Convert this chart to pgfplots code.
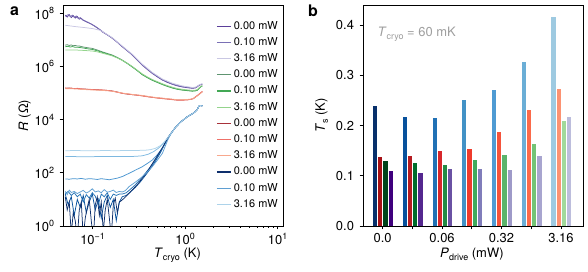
\documentclass[border=0pt]{standalone}
\usepackage{fontspec}
\setmainfont{TeX Gyre Heros}
\usepackage{pgfplots}
\usepackage{pgfplotstable}
\pgfplotsset{compat=1.18}

\newcommand\sups[1]{\raisebox{0.42em}{\fontsize{9}{9}\selectfont #1}}
\newcommand\subs[1]{\raisebox{-0.22em}{\fontsize{9}{9}\selectfont #1}}

% line colours (panel a)
\definecolor{LP0}{HTML}{5B3F9A}\definecolor{LP1}{HTML}{7A70B5}\definecolor{LP6}{HTML}{C9C7E3}
\definecolor{LG0}{HTML}{5E9470}\definecolor{LG1}{HTML}{43A855}\definecolor{LG6}{HTML}{94D48C}
\definecolor{LR0}{HTML}{A8323A}\definecolor{LR1}{HTML}{EF7068}\definecolor{LR6}{HTML}{F8A88D}
\definecolor{LB0}{HTML}{0E2F6C}\definecolor{LB1}{HTML}{08519C}\definecolor{LB2}{HTML}{2171B5}
\definecolor{LB3}{HTML}{5F9FD2}\definecolor{LB4}{HTML}{4A95D0}\definecolor{LB5}{HTML}{7DB8E0}\definecolor{LB6}{HTML}{ADD3EA}
% bar colours (panel b)
\definecolor{B0}{HTML}{08306B}\definecolor{B1}{HTML}{08519C}\definecolor{B2}{HTML}{2171B5}\definecolor{B3}{HTML}{4292C6}
\definecolor{B4}{HTML}{4F9BD3}\definecolor{B5}{HTML}{6BAED6}\definecolor{B6}{HTML}{9ECAE1}
\definecolor{R0}{HTML}{A50F15}\definecolor{R1}{HTML}{B51B21}\definecolor{R2}{HTML}{D7262B}\definecolor{R3}{HTML}{EF3B2C}
\definecolor{R4}{HTML}{F5533B}\definecolor{R5}{HTML}{FB6A4A}\definecolor{R6}{HTML}{FC9272}
\definecolor{G0}{HTML}{00441B}\definecolor{G1}{HTML}{006D2C}\definecolor{G2}{HTML}{238B45}\definecolor{G3}{HTML}{41AB5D}
\definecolor{G4}{HTML}{5BB46B}\definecolor{G5}{HTML}{74C476}\definecolor{G6}{HTML}{A1D99B}
\definecolor{P0}{HTML}{3F007D}\definecolor{P1}{HTML}{54278F}\definecolor{P2}{HTML}{6A51A3}\definecolor{P3}{HTML}{807DBA}
\definecolor{P4}{HTML}{9E9AC8}\definecolor{P5}{HTML}{A8A5CF}\definecolor{P6}{HTML}{BCBDDC}

% ---- panel a data: log10(T/K)  log10(R/Ohm)
\pgfplotstableread{
lt lr
-1.295 7.93
-1.274 7.86
-1.252 7.95
-1.230 7.84
-1.209 7.91
-1.187 7.82
-1.165 7.88
-1.144 7.78
-1.122 7.81
-1.101 7.74
-1.079 7.70
-1.057 7.66
-1.036 7.63
-1.014 7.60
-0.992 7.55
-0.971 7.50
-0.949 7.45
-0.917 7.37
-0.895 7.30
-0.841 7.19
-0.787 7.06
-0.733 6.91
-0.679 6.74
-0.625 6.59
-0.571 6.43
-0.517 6.24
-0.463 6.05
-0.409 5.89
-0.355 5.74
-0.301 5.61
-0.246 5.49
-0.192 5.40
-0.138 5.33
-0.084 5.27
-0.030 5.23
0.024 5.20
0.078 5.18
0.110 5.19
0.132 5.24
0.157 5.30
0.186 5.33
}\Pzero
\pgfplotstableread{
lt lr
-1.295 7.89
-1.264 7.95
-1.241 7.87
-1.219 7.93
-1.198 7.85
-1.176 7.90
-1.155 7.80
-1.133 7.84
-1.111 7.76
-1.090 7.73
-1.068 7.69
-1.046 7.66
-1.025 7.61
-1.003 7.57
-0.971 7.51
-0.938 7.43
-0.906 7.35
-0.863 7.24
-0.787 7.07
-0.679 6.75
-0.571 6.44
-0.463 6.06
-0.355 5.75
-0.246 5.50
-0.138 5.34
-0.030 5.24
0.078 5.19
0.110 5.20
0.132 5.25
0.157 5.31
0.186 5.34
}\Pone
\pgfplotstableread{
lt lr
-1.295 7.55
-1.187 7.50
-1.079 7.46
-0.992 7.42
-0.917 7.36
-0.863 7.25
-0.787 7.08
-0.679 6.77
-0.571 6.46
-0.463 6.09
-0.355 5.78
-0.246 5.53
-0.138 5.37
-0.030 5.27
0.078 5.21
0.110 5.22
0.132 5.26
0.157 5.32
0.186 5.35
}\Psix
\pgfplotstableread{
lt lr
-1.295 6.80
-1.274 6.82
-1.252 6.79
-1.230 6.81
-1.209 6.78
-1.187 6.79
-1.165 6.77
-1.144 6.77
-1.111 6.74
-1.079 6.72
-1.046 6.70
-1.003 6.68
-0.949 6.62
-0.895 6.55
-0.841 6.49
-0.787 6.43
-0.733 6.34
-0.679 6.24
-0.625 6.12
-0.571 5.99
-0.517 5.85
-0.463 5.70
-0.409 5.59
-0.355 5.49
-0.301 5.41
-0.246 5.33
-0.192 5.26
-0.138 5.20
-0.084 5.15
-0.030 5.12
0.024 5.10
0.078 5.08
0.110 5.09
0.132 5.11
0.168 5.24
0.186 5.27
}\Gzero
\pgfplotstableread{
lt lr
-1.295 6.74
-1.264 6.76
-1.241 6.73
-1.219 6.75
-1.187 6.72
-1.155 6.72
-1.111 6.70
-1.079 6.68
-1.046 6.66
-1.003 6.64
-0.949 6.59
-0.895 6.53
-0.841 6.47
-0.787 6.41
-0.733 6.33
-0.679 6.23
-0.625 6.11
-0.571 5.98
-0.517 5.84
-0.463 5.69
-0.409 5.58
-0.355 5.48
-0.301 5.40
-0.246 5.32
-0.192 5.25
-0.138 5.19
-0.084 5.14
-0.030 5.11
0.024 5.09
0.078 5.07
0.110 5.08
0.132 5.10
0.168 5.23
0.186 5.26
}\Gone
\pgfplotstableread{
lt lr
-1.295 6.62
-1.187 6.62
-1.079 6.60
-1.003 6.58
-0.949 6.55
-0.895 6.50
-0.841 6.45
-0.787 6.40
-0.733 6.32
-0.679 6.23
-0.625 6.12
-0.571 6.00
-0.517 5.86
-0.463 5.72
-0.409 5.61
-0.355 5.51
-0.301 5.43
-0.246 5.35
-0.192 5.28
-0.138 5.22
-0.084 5.17
-0.030 5.14
0.024 5.12
0.078 5.10
0.110 5.11
0.132 5.13
0.168 5.25
0.186 5.28
}\Gsix
\pgfplotstableread{
lt lr
-1.295 5.18
-1.252 5.19
-1.209 5.17
-1.165 5.17
-1.122 5.15
-1.079 5.15
-1.025 5.13
-0.971 5.13
-0.895 5.11
-0.841 5.10
-0.787 5.08
-0.733 5.04
-0.679 4.99
-0.625 4.96
-0.571 4.94
-0.517 4.92
-0.463 4.90
-0.409 4.87
-0.355 4.84
-0.301 4.82
-0.246 4.80
-0.192 4.78
-0.138 4.76
-0.084 4.74
-0.030 4.74
0.024 4.75
0.059 4.76
0.090 4.79
0.132 4.90
0.160 4.98
0.186 5.05
}\Rzero
\pgfplotstableread{
lt lr
-1.295 5.20
-1.264 5.17
-1.230 5.19
-1.198 5.16
-1.165 5.18
-1.122 5.16
-1.079 5.14
-1.025 5.14
-0.971 5.12
-0.895 5.12
-0.841 5.10
-0.787 5.07
-0.733 5.03
-0.679 4.99
-0.625 4.97
-0.571 4.94
-0.517 4.92
-0.463 4.89
-0.409 4.86
-0.355 4.84
-0.301 4.81
-0.246 4.79
-0.192 4.77
-0.138 4.75
-0.084 4.73
-0.030 4.73
0.024 4.74
0.059 4.76
0.090 4.80
0.132 4.91
0.160 4.99
0.186 5.06
}\Rone
\pgfplotstableread{
lt lr
-1.295 5.16
-1.209 5.16
-1.122 5.14
-1.025 5.12
-0.895 5.10
-0.787 5.07
-0.679 5.00
-0.571 4.95
-0.463 4.91
-0.355 4.85
-0.246 4.81
-0.138 4.77
-0.084 4.75
-0.030 4.75
0.024 4.76
0.059 4.77
0.090 4.80
0.132 4.89
0.160 4.97
0.186 5.04
}\Rsix
\pgfplotstableread{
lt lr
-1.295 1.10
-1.274 0.60
-1.252 0.90
-1.230 -0.30
-1.209 0.50
-1.187 0.20
-1.165 -0.50
-1.144 0.60
-1.122 0.90
-1.101 -0.40
-1.079 0.30
-1.057 0.70
-1.036 1.00
-1.014 0.20
-0.992 -0.50
-0.971 0.80
-0.949 1.10
-0.927 0.40
-0.906 0.90
-0.884 -0.20
-0.863 0.60
-0.841 1.00
-0.819 0.30
-0.798 -0.40
-0.776 0.80
-0.755 1.05
-0.733 0.50
-0.711 0.90
-0.690 0.95
-0.657 1.05
-0.614 1.20
-0.560 1.40
-0.506 1.60
-0.452 1.85
-0.398 2.10
-0.344 2.40
-0.290 2.70
-0.236 3.00
-0.192 3.28
-0.160 3.45
-0.106 3.70
-0.052 3.90
0.024 4.11
0.078 4.22
0.110 4.30
0.132 4.38
0.148 4.50
0.160 4.53
0.186 4.52
}\Bzero
\pgfplotstableread{
lt lr
-1.295 1.20
-1.264 0.80
-1.230 1.10
-1.198 0.40
-1.165 1.00
-1.133 0.70
-1.101 1.15
-1.068 0.50
-1.036 0.90
-1.003 1.20
-0.971 0.60
-0.938 1.00
-0.906 0.30
-0.874 0.90
-0.841 1.15
-0.809 0.70
-0.776 1.00
-0.744 0.20
-0.711 0.90
-0.679 1.10
-0.636 1.15
-0.592 1.28
-0.538 1.45
-0.484 1.66
-0.430 1.90
-0.376 2.15
-0.322 2.43
-0.268 2.75
-0.225 3.05
-0.192 3.28
-0.160 3.45
-0.106 3.70
-0.052 3.90
0.024 4.11
0.078 4.22
0.110 4.30
0.132 4.38
0.148 4.50
0.160 4.53
0.186 4.52
}\Bone
\pgfplotstableread{
lt lr
-1.295 1.22
-1.264 1.30
-1.230 1.15
-1.198 1.25
-1.165 1.10
-1.133 1.20
-1.101 0.90
-1.068 1.18
-1.036 1.05
-1.003 1.25
-0.971 1.12
-0.938 0.80
-0.906 1.20
-0.874 1.10
-0.841 1.25
-0.809 1.00
-0.776 1.20
-0.744 1.15
-0.711 1.20
-0.679 1.20
-0.636 1.25
-0.592 1.38
-0.538 1.55
-0.484 1.76
-0.430 1.98
-0.376 2.22
-0.322 2.48
-0.268 2.78
-0.225 3.07
-0.192 3.29
-0.160 3.45
-0.106 3.70
-0.052 3.90
0.024 4.11
0.078 4.22
0.110 4.30
0.132 4.38
0.148 4.50
0.160 4.53
0.186 4.52
}\Btwo
\pgfplotstableread{
lt lr
-1.295 1.30
-1.274 1.18
-1.252 1.35
-1.230 1.26
-1.198 1.30
-1.165 1.22
-1.133 1.28
-1.101 1.34
-1.068 1.24
-1.036 1.30
-1.003 1.40
-0.971 1.28
-0.938 1.32
-0.906 1.25
-0.874 1.37
-0.841 1.27
-0.809 1.30
-0.776 1.35
-0.744 1.26
-0.711 1.30
-0.679 1.28
-0.646 1.33
-0.606 1.48
-0.538 1.65
-0.463 1.85
-0.409 2.03
-0.355 2.23
-0.301 2.47
-0.246 2.73
-0.192 3.20
-0.160 3.42
-0.106 3.70
-0.052 3.90
0.024 4.11
0.078 4.22
0.110 4.30
0.132 4.38
0.148 4.50
0.160 4.53
0.186 4.52
}\Bthree
\pgfplotstableread{
lt lr
-1.295 1.77
-1.252 1.76
-1.209 1.78
-1.165 1.77
-1.122 1.79
-1.079 1.76
-1.036 1.78
-0.992 1.77
-0.949 1.75
-0.906 1.78
-0.863 1.76
-0.819 1.74
-0.776 1.77
-0.733 1.80
-0.679 1.86
-0.606 1.98
-0.538 2.10
-0.463 2.23
-0.409 2.35
-0.355 2.48
-0.301 2.68
-0.246 2.92
-0.214 3.10
-0.192 3.26
-0.160 3.45
-0.106 3.70
-0.052 3.90
0.024 4.11
0.078 4.22
0.110 4.30
0.132 4.38
0.148 4.50
0.160 4.53
0.186 4.52
}\Bfour
\pgfplotstableread{
lt lr
-1.295 2.61
-1.187 2.61
-1.079 2.60
-0.971 2.61
-0.863 2.61
-0.755 2.61
-0.646 2.61
-0.538 2.62
-0.463 2.64
-0.398 2.70
-0.344 2.79
-0.290 2.92
-0.246 3.06
-0.192 3.30
-0.160 3.45
-0.106 3.70
-0.052 3.90
0.024 4.11
0.078 4.22
0.110 4.30
0.132 4.38
0.148 4.50
0.160 4.53
0.186 4.52
}\Bfive
\pgfplotstableread{
lt lr
-1.295 2.83
-1.187 2.84
-1.079 2.83
-0.971 2.83
-0.863 2.84
-0.755 2.83
-0.646 2.84
-0.538 2.84
-0.430 2.85
-0.376 2.87
-0.322 2.92
-0.268 3.02
-0.225 3.16
-0.192 3.30
-0.160 3.45
-0.106 3.70
-0.052 3.90
0.024 4.11
0.078 4.22
0.110 4.30
0.132 4.38
0.148 4.50
0.160 4.53
0.186 4.52
}\Bsix

\pgfplotsset{
  every axis/.append style={
    scale only axis, width=220bp, height=221bp,
    font=\fontsize{13}{15}\selectfont,
    tick label style={font=\fontsize{13}{15}\selectfont},
    yticklabel style={xshift=-2bp},
    label style={font=\fontsize{13}{15}\selectfont},
    axis line style={line width=0.8bp},
    every tick/.style={black, line width=0.7bp},
    tick align=outside, tick pos=left,
    major tick length=3.5bp, minor tick length=2bp,
  },
  rline/.style={line width=0.75bp},
}

\begin{document}
\begin{tikzpicture}
\useasboundingbox (0,0) rectangle (588bp,272bp);

\begin{axis}[
  at={(63bp,46bp)}, anchor=south west,
  xmode=log, ymode=log,
  xmin=0.0479, xmax=11.43, ymin=1, ymax=2.05e8,
  xtick={0.1,1,10},
  xticklabels={10\sups{−1},10\sups{0},10\sups{1}},
  ytick={1,1e2,1e4,1e6,1e8},
  yticklabels={10\sups{0},10\sups{2},10\sups{4},10\sups{6},10\sups{8}},
  yminorticks=false,
  xlabel={\textit{T}\subs{cryo} (K)},
  ylabel={\textit{R} (Ω)},
  xlabel style={at={(axis description cs:0.52,-0.142)}, anchor=base},
  ylabel style={at={(axis description cs:-0.159,0.5)}, anchor=base},
  legend cell align=left,
  legend image code/.code={\draw[#1, line width=1.2bp] (0bp,0bp) -- (14bp,0bp);},
  legend style={draw=none, fill=none, at={(0.977,0.928)}, anchor=north east,
    font=\fontsize{11}{13}\selectfont, inner sep=0pt, row sep=6.2bp,
    nodes={inner sep=0pt, text height=8bp, text depth=2bp},
    /tikz/every odd column/.style={column sep=2.5bp}},
]
% unlabelled blue curves (intermediate drive powers)
\addplot[rline, color=LB1, forget plot] table[x expr=10^(\thisrow{lt}), y expr=10^(\thisrow{lr})] {\Bone};
\addplot[rline, color=LB2, forget plot] table[x expr=10^(\thisrow{lt}), y expr=10^(\thisrow{lr})] {\Btwo};
\addplot[rline, color=LB4, forget plot] table[x expr=10^(\thisrow{lt}), y expr=10^(\thisrow{lr})] {\Bfour};
\addplot[rline, color=LB5, forget plot] table[x expr=10^(\thisrow{lt}), y expr=10^(\thisrow{lr})] {\Bfive};
% labelled curves
\addplot[rline, color=LP0] table[x expr=10^(\thisrow{lt}), y expr=10^(\thisrow{lr})] {\Pzero};
\addlegendentry{0.00 mW}
\addplot[rline, color=LP1] table[x expr=10^(\thisrow{lt}), y expr=10^(\thisrow{lr})] {\Pone};
\addlegendentry{0.10 mW}
\addplot[rline, color=LP6] table[x expr=10^(\thisrow{lt}), y expr=10^(\thisrow{lr})] {\Psix};
\addlegendentry{3.16 mW}
\addplot[rline, color=LG0] table[x expr=10^(\thisrow{lt}), y expr=10^(\thisrow{lr})] {\Gzero};
\addlegendentry{0.00 mW}
\addplot[rline, color=LG1] table[x expr=10^(\thisrow{lt}), y expr=10^(\thisrow{lr})] {\Gone};
\addlegendentry{0.10 mW}
\addplot[rline, color=LG6] table[x expr=10^(\thisrow{lt}), y expr=10^(\thisrow{lr})] {\Gsix};
\addlegendentry{3.16 mW}
\addplot[rline, color=LR0] table[x expr=10^(\thisrow{lt}), y expr=10^(\thisrow{lr})] {\Rzero};
\addlegendentry{0.00 mW}
\addplot[rline, color=LR1] table[x expr=10^(\thisrow{lt}), y expr=10^(\thisrow{lr})] {\Rone};
\addlegendentry{0.10 mW}
\addplot[rline, color=LR6] table[x expr=10^(\thisrow{lt}), y expr=10^(\thisrow{lr})] {\Rsix};
\addlegendentry{3.16 mW}
\addplot[rline, color=LB0] table[x expr=10^(\thisrow{lt}), y expr=10^(\thisrow{lr})] {\Bzero};
\addlegendentry{0.00 mW}
\addplot[rline, color=LB3] table[x expr=10^(\thisrow{lt}), y expr=10^(\thisrow{lr})] {\Bthree};
\addlegendentry{0.10 mW}
\addplot[rline, color=LB6] table[x expr=10^(\thisrow{lt}), y expr=10^(\thisrow{lr})] {\Bsix};
\addlegendentry{3.16 mW}
\end{axis}

\begin{axis}[
  at={(363bp,46bp)}, anchor=south west,
  xmin=-0.66, xmax=6.74, ymin=0, ymax=0.44,
  xtick={0,1,2,3,4,5,6},
  xticklabels={0.0,,0.06,,0.32,,3.16},
  ytick={0,0.1,0.2,0.3,0.4},
  yticklabels={0.0,0.1,0.2,0.3,0.4},
  xlabel={\textit{P}\subs{drive} (mW)},
  ylabel={\textit{T}\subs{s} (K)},
  xlabel style={at={(axis description cs:0.495,-0.142)}, anchor=base},
  ylabel style={at={(axis description cs:-0.173,0.5)}, anchor=base},
  ybar, bar width=5.2bp,
  every axis plot/.append style={draw=white, line width=0.3bp},
]
% blue family
\addplot[fill=B0, bar shift=-7.8bp] coordinates {(0,0.240)};
\addplot[fill=B1, bar shift=-7.8bp] coordinates {(1,0.219)};
\addplot[fill=B2, bar shift=-7.8bp] coordinates {(2,0.217)};
\addplot[fill=B3, bar shift=-7.8bp] coordinates {(3,0.253)};
\addplot[fill=B4, bar shift=-7.8bp] coordinates {(4,0.272)};
\addplot[fill=B5, bar shift=-7.8bp] coordinates {(5,0.329)};
\addplot[fill=B6, bar shift=-7.8bp] coordinates {(6,0.418)};
% red family
\addplot[fill=R0, bar shift=-2.6bp] coordinates {(0,0.140)};
\addplot[fill=R1, bar shift=-2.6bp] coordinates {(1,0.141)};
\addplot[fill=R2, bar shift=-2.6bp] coordinates {(2,0.151)};
\addplot[fill=R3, bar shift=-2.6bp] coordinates {(3,0.155)};
\addplot[fill=R4, bar shift=-2.6bp] coordinates {(4,0.188)};
\addplot[fill=R5, bar shift=-2.6bp] coordinates {(5,0.233)};
\addplot[fill=R6, bar shift=-2.6bp] coordinates {(6,0.275)};
% green family
\addplot[fill=G0, bar shift=2.6bp] coordinates {(0,0.132)};
\addplot[fill=G1, bar shift=2.6bp] coordinates {(1,0.127)};
\addplot[fill=G2, bar shift=2.6bp] coordinates {(2,0.123)};
\addplot[fill=G3, bar shift=2.6bp] coordinates {(3,0.133)};
\addplot[fill=G4, bar shift=2.6bp] coordinates {(4,0.143)};
\addplot[fill=G5, bar shift=2.6bp] coordinates {(5,0.165)};
\addplot[fill=G6, bar shift=2.6bp] coordinates {(6,0.210)};
% purple family
\addplot[fill=P0, bar shift=7.8bp] coordinates {(0,0.111)};
\addplot[fill=P1, bar shift=7.8bp] coordinates {(1,0.108)};
\addplot[fill=P2, bar shift=7.8bp] coordinates {(2,0.116)};
\addplot[fill=P3, bar shift=7.8bp] coordinates {(3,0.115)};
\addplot[fill=P4, bar shift=7.8bp] coordinates {(4,0.113)};
\addplot[fill=P5, bar shift=7.8bp] coordinates {(5,0.141)};
\addplot[fill=P6, bar shift=7.8bp] coordinates {(6,0.219)};
\end{axis}

\node[anchor=base west, font=\bfseries\fontsize{16}{16}\selectfont] at (6.5bp,256.3bp) {a};
\node[anchor=base west, font=\bfseries\fontsize{16}{16}\selectfont] at (304.5bp,255.5bp) {b};
\node[anchor=base west, text=black!38, font=\fontsize{13}{15}\selectfont] at (374bp,235bp) {\textit{T}\subs{cryo} = 60 mK};
\end{tikzpicture}
\end{document}
